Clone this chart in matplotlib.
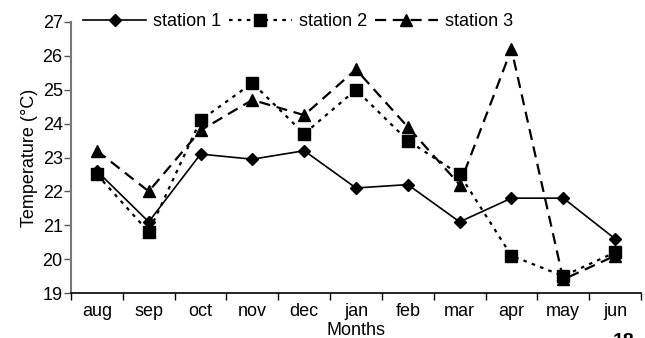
import matplotlib
matplotlib.use("Agg")
import matplotlib.pyplot as plt

months = ["aug", "sep", "oct", "nov", "dec", "jan", "feb", "mar", "apr", "may", "jun"]
station1 = [22.6, 21.1, 23.1, 22.95, 23.2, 22.1, 22.2, 21.1, 21.8, 21.8, 20.6]
station2 = [22.5, 20.8, 24.1, 25.2, 23.7, 25.0, 23.5, 22.5, 20.1, 19.5, 20.2]
station3 = [23.2, 22.0, 23.8, 24.7, 24.25, 25.6, 23.9, 22.2, 26.2, 19.4, 20.1]
yticks = [19, 20, 21, 22, 23, 24, 25, 26, 27]

plt.rcParams['font.family'] = ['Liberation Sans', 'DejaVu Sans']
FS = 13
fig = plt.figure(figsize=(6.45, 3.38), dpi=100)
ax = fig.add_axes([71/645, 1-293/338, 570/645, 271/338])
x = list(range(len(months)))
ax.plot(x, station1, color='black', lw=1.2, ls='-', marker='D', ms=6.5, label='station 1')
ax.plot(x, station2, color='black', lw=1.6, ls=(0, (1.6, 2.4)), marker='s', ms=8, label='station 2')
ax.plot(x, station3, color='black', lw=1.6, ls=(0, (5, 3)), marker='^', ms=9, label='station 3')

ax.set_xlim(-0.5, len(months) - 0.5)
ax.set_ylim(19, 27)
ax.set_yticks(yticks)
ax.set_xticks([i - 0.5 for i in range(len(months) + 1)])
ax.set_xticklabels([])
ax.set_xticks(x, minor=True)
ax.set_xticklabels(months, minor=True)
ax.tick_params(axis='x', which='minor', length=0, labelsize=FS, pad=7)
ax.tick_params(axis='x', which='major', length=5, direction='out', width=1)
ax.tick_params(axis='y', length=5, direction='out', labelsize=FS, width=1, color='#555555', pad=1)
for s in ['top', 'right']:
    ax.spines[s].set_visible(False)
ax.spines['left'].set_color('#777777')
ax.spines['left'].set_linewidth(1.5)
ax.spines['bottom'].set_linewidth(1.2)

ax.set_ylabel('Temperature (°C)', fontsize=FS, labelpad=3)
ax.set_xlabel('Months', fontsize=FS, labelpad=1.5)
leg = ax.legend(ncol=3, loc='center left', bbox_to_anchor=(12/570, 1.0), frameon=False,
                fontsize=FS, handlelength=3.5, columnspacing=0.4, handletextpad=0.4,
                borderaxespad=0, borderpad=0)
fig.text(613/645, 1-333/338, '18', fontsize=14, fontweight='bold', ha='left', va='top')
fig.savefig('out.png', dpi=100)
